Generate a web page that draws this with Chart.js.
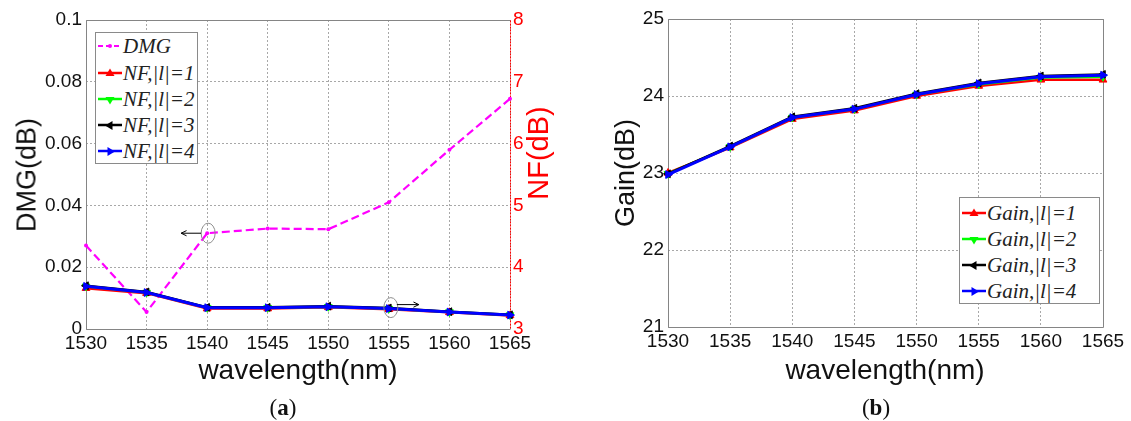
<!DOCTYPE html>
<html><head><meta charset="utf-8">
<script src="https://cdn.jsdelivr.net/npm/chart.js@4/dist/chart.umd.min.js"></script>
<style>
html,body{margin:0;padding:0;background:#fff;}
#wrap{position:relative;width:1131px;height:421px;overflow:hidden;font-family:"Liberation Sans",Arial,sans-serif;}
canvas{position:absolute;top:0;}
.t{position:absolute;white-space:nowrap;color:#111;font-size:27px;line-height:1;}
.rot{transform:translate(-50%,-50%) rotate(-90deg);}
.ctr{transform:translate(-50%,-50%);}
.legend{position:absolute;border:1px solid #8a8a8a;background:#fff;}
.lrow{position:absolute;height:24px;display:flex;align-items:center;font-family:"Liberation Serif","Times New Roman",serif;font-style:italic;font-size:21px;color:#222;white-space:nowrap;}
.lrow svg{margin-right:1px;}
.cap{font-family:"Liberation Serif","Times New Roman",serif;font-size:23px;}
</style></head>
<body><div id="wrap">
<canvas id="c1" width="560" height="400" style="left:0"></canvas>
<canvas id="c2" width="566" height="400" style="left:565px"></canvas>
<div class="t rot" style="left:27px;top:175px">DMG(dB)</div>
<div class="t rot" style="left:538px;top:153px;color:#ff0000;font-size:29px">NF(dB)</div>
<div class="t rot" style="left:625px;top:173px">Gain(dB)</div>
<div class="t ctr" style="left:298px;top:370px;font-size:28px">wavelength(nm)</div>
<div class="t ctr" style="left:885px;top:370px;font-size:28px">wavelength(nm)</div>
<div class="t ctr cap" style="left:283px;top:407px">(<b>a</b>)</div>
<div class="t ctr cap" style="left:876px;top:407px">(<b>b</b>)</div>
<div class="legend" id="leg1" style="left:95px;top:32px;width:101px;height:130px"></div>
<div class="legend" id="leg2" style="left:959px;top:197px;width:139px;height:105px"></div>
</div>
<script>
// ---------- data ----------
const wavelengths = [1530, 1535, 1540, 1545, 1550, 1555, 1560, 1565];
const xTicks = [1530, 1535, 1540, 1545, 1550, 1555, 1560, 1565];
const xTickLabels = ['1530','1535','1540','1545','1550','1555','1560','1565'];

const dmg = [0.027, 0.0055, 0.031, 0.0325, 0.0323, 0.041, 0.058, 0.0745];
const nf1 = [3.66, 3.58, 3.33, 3.33, 3.35, 3.32, 3.27, 3.22];
const nf2 = [3.69, 3.59, 3.345, 3.345, 3.36, 3.33, 3.275, 3.225];
const nf3 = [3.70, 3.60, 3.35, 3.35, 3.37, 3.34, 3.28, 3.23];
const nf4 = [3.69, 3.59, 3.345, 3.345, 3.36, 3.33, 3.275, 3.225];

const gain1 = [23.00, 23.33, 23.70, 23.81, 24.00, 24.13, 24.21, 24.21];
const gain2 = [22.99, 23.34, 23.72, 23.83, 24.02, 24.15, 24.24, 24.25];
const gain3 = [22.99, 23.35, 23.73, 23.84, 24.03, 24.17, 24.26, 24.28];
const gain4 = [22.98, 23.34, 23.72, 23.83, 24.02, 24.16, 24.25, 24.27];

const dmgTicks = [0, 0.02, 0.04, 0.06, 0.08, 0.1];
const dmgTickLabels = ['0','0.02','0.04','0.06','0.08','0.1'];
const nfTicks = [3, 4, 5, 6, 7, 8];
const nfTickLabels = ['3','4','5','6','7','8'];
const gainTicks = [21, 22, 23, 24, 25];
const gainTickLabels = ['21','22','23','24','25'];

const nfNames = ['NF,|l|=1','NF,|l|=2','NF,|l|=3','NF,|l|=4'];
const gainNames = ['Gain,|l|=1','Gain,|l|=2','Gain,|l|=3','Gain,|l|=4'];

// ---------- styles ----------
const seriesColors = ['#ff0000', '#00ff00', '#000000', '#0000ff'];
const seriesRot = [0, 180, -90, 90];
const tickFont = {family: '"Liberation Sans", Arial, sans-serif', size: 19};
const gridColor = '#a8a8a8';

function pts(arr){ return wavelengths.map((x,i)=>({x:x, y:arr[i]})); }
function setTicks(vals){ return s => { s.ticks = vals.map(v=>({value:v})); }; }

const framePlugin = {
  id: 'frame',
  beforeDatasetsDraw(chart, args, opts){
    const {ctx, chartArea:{left,right,top,bottom}} = chart;
    ctx.save();
    ctx.lineWidth = 1;
    ctx.strokeStyle = '#858585';
    ctx.beginPath();
    ctx.moveTo(Math.round(right)+0.5, Math.round(top)+0.5);
    ctx.lineTo(Math.round(left)+0.5, Math.round(top)+0.5);
    ctx.lineTo(Math.round(left)+0.5, Math.round(bottom)+0.5);
    ctx.lineTo(Math.round(right)+0.5, Math.round(bottom)+0.5);
    if (!opts.rightColor) ctx.lineTo(Math.round(right)+0.5, Math.round(top)+0.5);
    ctx.stroke();
    if (opts.rightColor){
      ctx.strokeStyle = opts.rightColor;
      ctx.setLineDash([2,1]);
      ctx.beginPath();
      ctx.moveTo(Math.round(right)+0.5, Math.round(top)+0.5);
      ctx.lineTo(Math.round(right)+0.5, Math.round(bottom)+0.5);
      ctx.stroke();
    }
    ctx.restore();
  }
};

function arrow(ctx, x0, y0, x1, y1){
  ctx.beginPath(); ctx.moveTo(x0,y0); ctx.lineTo(x1,y1); ctx.stroke();
  const a = Math.atan2(y1-y0, x1-x0), h = 6;
  ctx.beginPath();
  ctx.moveTo(x1 - h*Math.cos(a-0.45), y1 - h*Math.sin(a-0.45));
  ctx.lineTo(x1, y1);
  ctx.lineTo(x1 - h*Math.cos(a+0.45), y1 - h*Math.sin(a+0.45));
  ctx.stroke();
}

const annotPlugin = {
  id: 'annot',
  afterDatasetsDraw(chart){
    const {ctx, scales:{x, y, y1}} = chart;
    ctx.save();
    ctx.lineWidth = 1;
    let px = x.getPixelForValue(wavelengths[2]), py = y.getPixelForValue(dmg[2]);
    ctx.strokeStyle = '#8c8c8c';
    ctx.beginPath(); ctx.ellipse(px+1, py, 7, 10, 0, 0, Math.PI*2); ctx.stroke();
    ctx.strokeStyle = '#000';
    arrow(ctx, px-6, py, px-26, py);
    px = x.getPixelForValue(wavelengths[5]); py = y1.getPixelForValue(nf4[5]);
    ctx.strokeStyle = '#8c8c8c';
    ctx.beginPath(); ctx.ellipse(px+2, py-1, 7, 10, 0, 0, Math.PI*2); ctx.stroke();
    ctx.strokeStyle = '#000';
    arrow(ctx, px+8, py-4, px+30, py-4);
    ctx.restore();
  }
};

function xScale(h){
  return {
    type: 'linear', min: 1530, max: 1565,
    afterBuildTicks: setTicks(xTicks),
    afterFit: s => { s.height = h; },
    ticks: {font: tickFont, color: '#111', padding: 3, maxRotation: 0, autoSkip: false,
            callback: (v, i) => xTickLabels[i]},
    grid: {color: gridColor, lineWidth: 1, drawTicks: false},
    border: {display: false, dash: [2,2]}
  };
}

function nfDataset(arr, i){
  return {
    data: pts(arr), yAxisID: 'y1',
    borderColor: seriesColors[i], backgroundColor: seriesColors[i],
    borderWidth: i === 3 ? 3 : 2.5,
    pointStyle: 'triangle', rotation: seriesRot[i], pointRadius: 4.5,
    pointBorderWidth: 1, pointBackgroundColor: seriesColors[i], pointBorderColor: seriesColors[i],
    tension: 0, clip: false, order: 4 - i
  };
}

new Chart(document.getElementById('c1'), {
  type: 'line',
  data: {
    datasets: [
      {data: pts(dmg), yAxisID: 'y', borderColor: '#ff00ff', backgroundColor: '#ff00ff',
       borderWidth: 2.2, borderDash: [8,4], pointStyle: 'circle', pointRadius: 2,
       pointBorderWidth: 0, tension: 0, clip: false, order: 5},
      nfDataset(nf1, 0), nfDataset(nf2, 1), nfDataset(nf3, 2), nfDataset(nf4, 3)
    ]
  },
  options: {
    responsive: false, animation: false, devicePixelRatio: 1,
    layout: {padding: {top: 20, left: 0, right: 0, bottom: 0}},
    plugins: {legend: {display: false}, tooltip: {enabled: false}, frame: {rightColor: '#ff0000'}},
    scales: {
      x: xScale(71),
      y: {
        type: 'linear', position: 'left', min: 0, max: 0.1,
        afterBuildTicks: setTicks(dmgTicks),
        afterFit: s => { s.width = 86; },
        ticks: {font: tickFont, color: '#111', padding: 4, callback: (v, i) => dmgTickLabels[i]},
        grid: {color: gridColor, lineWidth: 1, drawTicks: false},
        border: {display: false, dash: [2,2]}
      },
      y1: {
        type: 'linear', position: 'right', min: 3, max: 8,
        afterBuildTicks: setTicks(nfTicks),
        afterFit: s => { s.width = 50; },
        ticks: {font: tickFont, color: '#ff0000', padding: 3, callback: (v, i) => nfTickLabels[i]},
        grid: {display: false, drawTicks: false},
        border: {display: false}
      }
    }
  },
  plugins: [framePlugin, annotPlugin]
});

function gainDataset(arr, i){
  const d = nfDataset(arr, i);
  d.yAxisID = 'y';
  return d;
}

new Chart(document.getElementById('c2'), {
  type: 'line',
  data: {
    datasets: [gainDataset(gain1,0), gainDataset(gain2,1), gainDataset(gain3,2), gainDataset(gain4,3)]
  },
  options: {
    responsive: false, animation: false, devicePixelRatio: 1,
    layout: {padding: {top: 19, left: 0, right: 28, bottom: 0}},
    plugins: {legend: {display: false}, tooltip: {enabled: false}, frame: {}},
    scales: {
      x: xScale(73),
      y: {
        type: 'linear', position: 'left', min: 21, max: 25,
        afterBuildTicks: setTicks(gainTicks),
        afterFit: s => { s.width = 103; },
        ticks: {font: tickFont, color: '#111', padding: 4, callback: (v, i) => gainTickLabels[i]},
        grid: {color: gridColor, lineWidth: 1, drawTicks: false},
        border: {display: false, dash: [2,2]}
      }
    }
  },
  plugins: [framePlugin]
});

// ---------- legends (HTML) ----------
function markerSvg(color, rot, dashed){
  const ns = 'http://www.w3.org/2000/svg';
  const svg = document.createElementNS(ns, 'svg');
  svg.setAttribute('width', '24'); svg.setAttribute('height', '14');
  const ln = document.createElementNS(ns, 'line');
  ln.setAttribute('x1','0'); ln.setAttribute('y1','7'); ln.setAttribute('x2','24'); ln.setAttribute('y2','7');
  ln.setAttribute('stroke', color); ln.setAttribute('stroke-width', dashed ? '2' : '2.5');
  if (dashed) ln.setAttribute('stroke-dasharray', '5,3');
  svg.appendChild(ln);
  if (dashed){
    const c = document.createElementNS(ns, 'circle');
    c.setAttribute('cx','12'); c.setAttribute('cy','7'); c.setAttribute('r','2'); c.setAttribute('fill', color);
    svg.appendChild(c);
  } else {
    const p = document.createElementNS(ns, 'polygon');
    p.setAttribute('points', '12,2.5 16.5,10 7.5,10');
    p.setAttribute('fill', color);
    p.setAttribute('transform', 'rotate(' + rot + ' 12 7.5)');
    svg.appendChild(p);
  }
  return svg;
}
function addRow(leg, x, y, svg, text){
  const r = document.createElement('div');
  r.className = 'lrow';
  r.style.left = x + 'px'; r.style.top = (y - 12) + 'px';
  r.appendChild(svg);
  const s = document.createElement('span');
  s.textContent = text;
  r.appendChild(s);
  leg.appendChild(r);
}
const leg1 = document.getElementById('leg1');
addRow(leg1, 2, 13, markerSvg('#ff00ff', 0, true), 'DMG');
nfNames.forEach((n, i) => addRow(leg1, 2, 40 + i*26, markerSvg(seriesColors[i], seriesRot[i], false), n));
const leg2 = document.getElementById('leg2');
gainNames.forEach((n, i) => addRow(leg2, 2, 15 + i*26, markerSvg(seriesColors[i], seriesRot[i], false), n));
</script>
</body></html>
